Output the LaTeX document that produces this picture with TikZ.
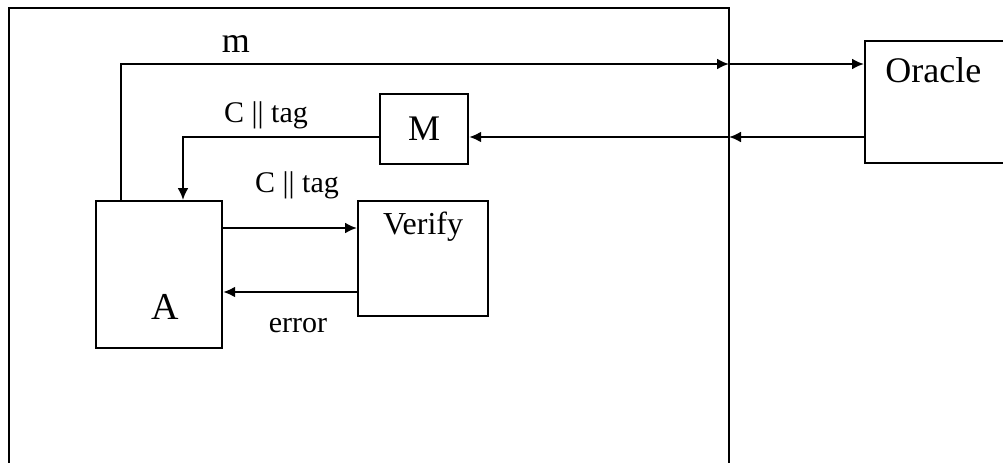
\documentclass[tikz,border=0pt]{standalone}
\usepackage{fontspec}
\setmainfont{Liberation Serif}
\usetikzlibrary{arrows.meta,calc}
\newcommand{\bigtxt}{\fontsize{18}{21}\selectfont}
\newcommand{\lbltxt}{\fontsize{15}{18}\selectfont}
\tikzset{
	blk/.style={draw, line width=1.1pt, inner sep=0pt, anchor=north west},
	lbl/.style={font=\lbltxt, inner sep=0pt, anchor=base},
	flow/.style={line width=1.1pt, -{Latex[length=6pt,width=5.5pt]}}
}

\begin{document}
\begin{tikzpicture}[x=0.5pt, y=-0.5pt]
			\useasboundingbox (0,0) rectangle (1003,462);
			\clip (0,0) rectangle (1003,462);
			\draw[line width=1.2pt] (9,480) |- (729,8) -- (729,480);
			\node[blk, minimum width=63pt, minimum height=73.5pt,
				label={[font=\fontsize{19}{22}\selectfont, inner sep=0pt, xshift=3.25pt, yshift=-16pt]center:A}] (A) at (95,200) {};
			\node[blk, minimum width=44pt, minimum height=35pt, font=\bigtxt] (M) at (379,93) {M};
			\node[blk, minimum width=65pt, minimum height=57.5pt,
				label={[font=\fontsize{16}{19}\selectfont, inner sep=0pt, below=6pt]north:Verify}] (V) at (357,200) {};
			\node[blk, minimum width=150pt, minimum height=61pt,
				label={[font=\bigtxt, inner sep=0pt, anchor=north west, xshift=10.5pt, yshift=-8.5pt]north west:Oracle}] (O) at (864,40) {};
			\coordinate (gtop) at (729,64);
			\coordinate (gbot) at (729,137);
			\draw[flow] ($(A.north west)+(26,0)$) |- (gtop);
			\draw[flow] (gtop) -- (gtop -| O.west);
			\draw[flow] (gbot -| O.west) -- (gbot);
			\draw[flow] (gbot) -- (gbot -| M.east);
			\draw[flow] (gbot -| M.west) -| ($(A.north west)+(88,0)$);
			\draw[flow] ($(A.north east)+(0,28)$) -- ($(V.north west)+(0,28)$);
			\draw[flow] ($(V.north west)+(0,92)$) -- ($(A.north east)+(0,92)$);
			\node[lbl, font=\bigtxt] (mlab) at (236,52) {m};
			\node[lbl] (ctag1) at (266,122) {C || tag};
			\node[lbl] (ctag2) at (297,192) {C || tag};
			\node[lbl] (err) at (298,332) {error};
		\end{tikzpicture}
\end{document}
